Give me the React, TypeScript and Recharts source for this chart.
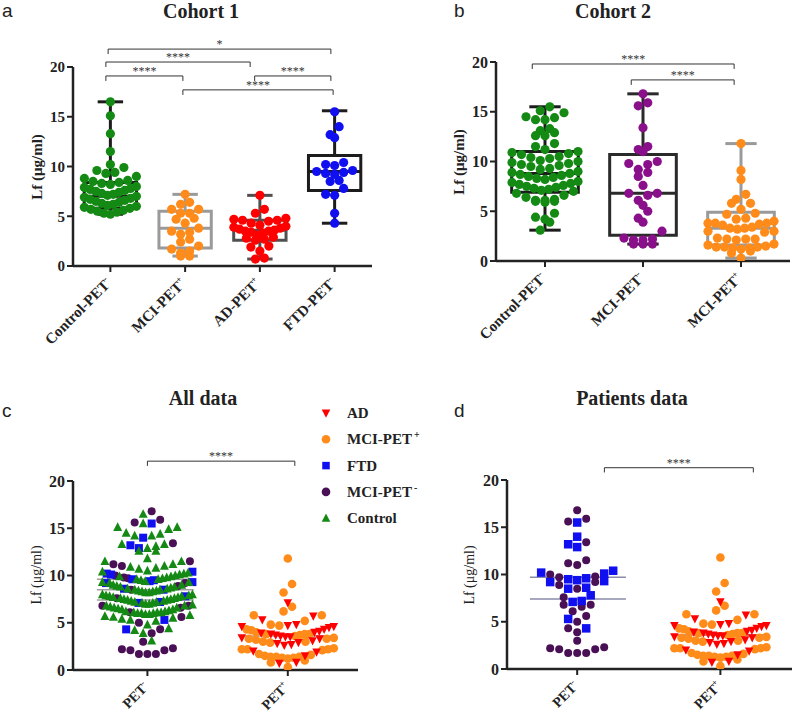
import React from "react";
import { ScatterChart, Scatter, XAxis, YAxis, ReferenceLine, ReferenceArea } from "recharts";

const SERIF = '"Liberation Serif", "Times New Roman", serif';
const SANS = '"Liberation Sans", Arial, sans-serif';
const INK = "#222";

const RED = "#ff0000";
const ORANGE = "#ff8c1a";
const BLUE = "#0f0ff0";
const GREEN = "#148a14";
const PURPLE = "#8a0f8a";
const DKPURPLE = "#4a1055";

// ─── Values (µg/ml) ───────────────────────────────────────────────────────────

const ctrl1 = [16.5, 15.1, 13.3, 11.5, 10.2, 9.9, 9.6, 9.4, 9.3, 9.0, 8.8, 8.6, 8.5, 8.4, 8.3, 8.2, 8.0, 7.9, 7.8, 7.7, 7.6, 7.5, 7.4, 7.3, 7.2, 7.1, 7.0, 6.9, 6.8, 6.7, 6.6, 6.5, 6.4, 6.3, 6.2, 6.1, 6.0, 5.9, 5.8, 5.7, 5.6, 5.5, 5.4, 5.3, 5.2];
const mciPos1 = [7.2, 6.4, 6.2, 5.7, 5.7, 5.3, 5.3, 4.8, 4.7, 4.3, 3.8, 3.5, 3.4, 3.2, 2.7, 2.4, 2.0, 1.7, 1.5, 1.3, 1.0, 1.0];
const ad1 = [7.1, 5.7, 5.3, 4.8, 4.7, 4.6, 4.6, 4.5, 4.3, 4.1, 4.0, 3.9, 3.8, 3.7, 3.6, 3.5, 3.5, 3.4, 3.3, 3.1, 2.9, 2.8, 2.7, 2.6, 2.0, 1.9, 1.5, 0.8, 0.7];
const ftd1 = [15.5, 14.0, 13.2, 12.9, 10.4, 10.2, 10.1, 9.6, 9.5, 9.4, 9.3, 9.2, 8.6, 8.5, 7.8, 7.2, 7.1, 5.3, 4.3];

const ctrl2 = [15.5, 15.1, 14.9, 14.5, 14.4, 14.2, 14.2, 13.3, 13.1, 12.9, 12.6, 12.6, 11.8, 11.5, 11.2, 11.0, 10.9, 10.8, 10.7, 10.5, 10.4, 10.3, 10.1, 10.0, 9.9, 9.8, 9.7, 9.6, 9.5, 9.3, 9.2, 9.0, 8.9, 8.8, 8.7, 8.6, 8.5, 8.4, 8.3, 8.2, 8.0, 7.9, 7.8, 7.7, 7.6, 7.5, 7.4, 7.3, 7.2, 7.1, 7.0, 6.8, 6.6, 6.4, 6.2, 6.1, 6.1, 6.0, 6.0, 5.9, 4.8, 4.4, 4.2, 3.9, 3.1];
const mciNeg2 = [16.8, 15.9, 15.6, 13.4, 11.5, 11.2, 11.0, 10.0, 9.8, 9.7, 9.2, 8.9, 8.5, 7.6, 6.8, 6.8, 6.6, 6.1, 5.6, 5.0, 4.3, 3.9, 3.0, 2.3, 2.2, 2.1, 2.1, 1.7, 1.7, 1.7];
const mciPos2 = [11.8, 9.1, 8.2, 6.7, 6.2, 5.8, 5.8, 5.2, 4.8, 4.7, 4.3, 4.2, 4.0, 3.8, 3.8, 3.8, 3.7, 3.6, 3.4, 3.3, 3.3, 3.2, 3.0, 3.0, 2.9, 2.3, 2.2, 2.2, 2.2, 2.1, 1.7, 1.6, 1.5, 1.4, 1.4, 1.4, 1.3, 1.3, 1.2, 1.0, 0.8, 0.3];

// ─── Categories & box statistics ──────────────────────────────────────────────

const cohort1Labels = ["Control-PET", "MCI-PET", "AD-PET", "FTD-PET"];
const cohort1Sups = ["-", "+", "+", "-"];
const cohort1Min = [5.2, 1.0, 0.7, 4.3];
const cohort1Q1 = [5.8, 1.8, 2.6, 7.6];
const cohort1Median = [7.0, 3.8, 3.6, 9.5];
const cohort1Q3 = [8.4, 5.5, 4.6, 11.1];
const cohort1Max = [16.5, 7.2, 7.1, 15.6];

const cohort2Labels = ["Control-PET", "MCI-PET", "MCI-PET"];
const cohort2Sups = ["-", "-", "+"];
const cohort2Min = [3.1, 1.7, 0.3];
const cohort2Q1 = [6.9, 2.6, 1.6];
const cohort2Median = [8.8, 6.8, 3.3];
const cohort2Q3 = [11.0, 10.7, 4.9];
const cohort2Max = [15.5, 16.8, 11.8];

const pooledLabels = ["PET", "PET"];
const pooledSups = ["-", "+"];
const allLinesNeg = [9.6, 8.5, 7.4];
const allLinesPos = [3.6];
const patLinesNeg = [9.7, 7.4];
const patLinesPos = [3.6];

const yTicks = [0, 5, 10, 15, 20];

// brackets: [from, to, level, label]
const bracketsA: [number, number, number, string][] = [
  [0.97, 3.95, 21.8, "*"],
  [0.94, 2.87, 20.5, "****"],
  [0.94, 1.97, 19.1, "****"],
  [2.93, 3.95, 19.1, "****"],
  [1.97, 3.98, 17.7, "****"],
];
const bracketsB: [number, number, number, string][] = [
  [0.87, 2.93, 19.8, "****"],
  [1.88, 2.93, 18.2, "****"],
];
const bracketsC: [number, number, number, string][] = [[1.0, 2.05, 22.1, "****"]];
const bracketsD: [number, number, number, string][] = [[1.19, 2.23, 21.3, "****"]];

// ─── Row-binned scatter layout (offsets in px, derived from the values) ──────
// points are binned into rows; inside a row the lowest values sit in the
// middle and the row is squeezed when it would exceed the column width

function rows(groups: number[][], ppu: number, hb: number, s0: number, maxHalf: number): number[][] {
  const items: { g: number; i: number; y: number }[] = [];
  groups.forEach((vals, g) => vals.forEach((v, i) => items.push({ g, i, y: v * ppu })));
  const bins = new Map<number, number[]>();
  items.forEach((it, k) => {
    const b = Math.floor(it.y / hb);
    if (!bins.has(b)) bins.set(b, []);
    bins.get(b)!.push(k);
  });
  const out = groups.map((vals) => vals.map(() => 0));
  bins.forEach((idx) => {
    idx.sort((a, b) => items[a].y - items[b].y || a - b);
    const n = idx.length;
    const s = n > 1 ? Math.min(s0, (2 * maxHalf) / (n - 1)) : 0;
    const pos = Array.from({ length: n }, (_, j) => (j - (n - 1) / 2) * s).sort(
      (a, b) => Math.abs(a) - Math.abs(b) || a - b
    );
    idx.forEach((k, j) => {
      out[items[k].g][items[k].i] = pos[j];
    });
  });
  return out;
}

const toPts = (vals: number[], offs: number[], cat: number, ppc: number) =>
  vals.map((v, i) => ({ x: cat + offs[i] / ppc, y: v }));

// ─── Marker shapes ────────────────────────────────────────────────────────────

const dot = (r: number, fill: string) => (p: any) => <circle cx={p.cx} cy={p.cy} r={r} fill={fill} />;
const square = (s: number, fill: string) => (p: any) => (
  <rect x={p.cx - s / 2} y={p.cy - s / 2} width={s} height={s} fill={fill} />
);
const triUp = (s: number, fill: string) => (p: any) => (
  <path d={`M${p.cx},${p.cy - s * 0.55}L${p.cx + s / 2},${p.cy + s * 0.42}L${p.cx - s / 2},${p.cy + s * 0.42}Z`} fill={fill} />
);
const triDown = (s: number, fill: string) => (p: any) => (
  <path d={`M${p.cx},${p.cy + s * 0.55}L${p.cx + s / 2},${p.cy - s * 0.42}L${p.cx - s / 2},${p.cy - s * 0.42}Z`} fill={fill} />
);

// ─── Axis ticks ───────────────────────────────────────────────────────────────

const makeXTick = (labels: string[], sups: string[], fs: number) => (props: any) => {
  const { x, y, payload } = props;
  const i = Math.round(payload.value) - 1;
  return (
    <text
      transform={`translate(${x + 2},${y + 10}) rotate(-45)`}
      textAnchor="end"
      fontFamily={SERIF}
      fontWeight={700}
      fontSize={fs}
      fill={INK}
    >
      {labels[i]}
      <tspan fontSize={fs * 0.6} dy={-fs * 0.42}>{sups[i]}</tspan>
    </text>
  );
};

const axisLine = { stroke: INK, strokeWidth: 2.5 };
const tickLine = { stroke: INK, strokeWidth: 2 };

// ─── Reference helpers ────────────────────────────────────────────────────────

function brackets(list: [number, number, number, string][], id: string) {
  return list.flatMap(([x1, x2, y, label], k) => [
    <ReferenceLine
      key={`${id}h${k}`}
      segment={[{ x: x1, y }, { x: x2, y }]}
      stroke="#333"
      strokeWidth={1}
      ifOverflow="visible"
      label={{ value: label, position: "top", offset: 1, fontSize: 12, fill: "#333", fontFamily: SERIF }}
    />,
    <ReferenceLine key={`${id}l${k}`} segment={[{ x: x1, y }, { x: x1, y: y - 0.5 }]} stroke="#333" strokeWidth={1} ifOverflow="visible" />,
    <ReferenceLine key={`${id}r${k}`} segment={[{ x: x2, y }, { x: x2, y: y - 0.5 }]} stroke="#333" strokeWidth={1} ifOverflow="visible" />,
  ]);
}

function boxes(mins: number[], q1: number[], med: number[], q3: number[], maxs: number[], colors: string[], hw: number, cw: number, id: string) {
  return mins.flatMap((mn, i) => {
    const c = i + 1;
    const col = colors[i];
    return [
      <ReferenceLine key={`${id}wt${i}`} segment={[{ x: c, y: q3[i] }, { x: c, y: maxs[i] }]} stroke={col} strokeWidth={3} ifOverflow="visible" />,
      <ReferenceLine key={`${id}wb${i}`} segment={[{ x: c, y: q1[i] }, { x: c, y: mn }]} stroke={col} strokeWidth={3} ifOverflow="visible" />,
      <ReferenceLine key={`${id}ct${i}`} segment={[{ x: c - cw, y: maxs[i] }, { x: c + cw, y: maxs[i] }]} stroke={col} strokeWidth={3} ifOverflow="visible" />,
      <ReferenceLine key={`${id}cb${i}`} segment={[{ x: c - cw, y: mn }, { x: c + cw, y: mn }]} stroke={col} strokeWidth={3} ifOverflow="visible" />,
      <ReferenceArea key={`${id}bx${i}`} x1={c - hw} x2={c + hw} y1={q1[i]} y2={q3[i]} fill="none" fillOpacity={0} stroke={col} strokeWidth={3} ifOverflow="visible" />,
      <ReferenceLine key={`${id}md${i}`} segment={[{ x: c - hw, y: med[i] }, { x: c + hw, y: med[i] }]} stroke={col} strokeWidth={3} ifOverflow="visible" />,
    ];
  });
}

function levelLines(vals: number[], cat: number, lo: number, hi: number, color: string, id: string) {
  return vals.map((v, k) => (
    <ReferenceLine key={`${id}${k}`} segment={[{ x: cat + lo, y: v }, { x: cat + hi, y: v }]} stroke={color} strokeWidth={1.5} ifOverflow="visible" />
  ));
}

// ─── Layout derived data ──────────────────────────────────────────────────────

const PPU_A = 199 / 20, PPC_A = 74.75;
const PPU_B = 199 / 20, PPC_B = 98;
const PPU_C = 189 / 20, PPC_C = 140.4;
const PPU_D = 189 / 20, PPC_D = 143.2;

const cohort1Groups = [ctrl1, mciPos1, ad1, ftd1];
const cohort1Colors = [GREEN, ORANGE, RED, BLUE];
const cohort1BoxColors = ["#1c1c1c", "#9a9a9a", "#505050", "#1c1c1c"];
const ptsA = cohort1Groups.map((vals, i) => toPts(vals, rows([vals], PPU_A, 10, 9, 26)[0], i + 1, PPC_A));

const cohort2Groups = [ctrl2, mciNeg2, mciPos2];
const cohort2Colors = [GREEN, PURPLE, ORANGE];
const cohort2BoxColors = ["#1c1c1c", "#2a2a2a", "#9a9a9a"];
const ptsB = cohort2Groups.map((vals, i) => toPts(vals, rows([vals], PPU_B, 10, 9.5, 33)[0], i + 1, PPC_B));

const ctrlAll = [...ctrl1, ...ctrl2];
const layCNeg = rows([ctrlAll, mciNeg2, ftd1], PPU_C, 11, 8.5, 45);
const layCPos = rows([ad1, mciPos2], PPU_C, 11, 8.5, 46);
const layDNeg = rows([mciNeg2, ftd1], PPU_D, 11, 9, 46);
const layDPos = rows([ad1, mciPos2], PPU_D, 11, 8.5, 46);

const legendItems = [
  { label: "AD", sup: "", color: RED, kind: "down" },
  { label: "MCI-PET", sup: "+", color: ORANGE, kind: "circle" },
  { label: "FTD", sup: "", color: BLUE, kind: "square" },
  { label: "MCI-PET", sup: "-", color: DKPURPLE, kind: "circle" },
  { label: "Control", sup: "", color: GREEN, kind: "up" },
];

// ─── Component ────────────────────────────────────────────────────────────────

const yTick = (fs: number) => ({ fontFamily: SERIF, fontWeight: 700, fontSize: fs, fill: INK });

export default function App() {
  return (
    <div style={{ position: "absolute", left: 0, top: 0, width: 796, height: 715, background: "#fff" }}>
      {/* a — Cohort 1 */}
      <div style={{ position: "absolute", left: 0, top: 0 }}>
        <ScatterChart width={400} height={360} margin={{ top: 67, right: 28, bottom: 4, left: 43 }}>
          <XAxis type="number" dataKey="x" domain={[0.5, 4.5]} ticks={[1, 2, 3, 4]} interval={0} allowDataOverflow height={90}
            tick={makeXTick(cohort1Labels, cohort1Sups, 15)} tickSize={6} tickLine={tickLine} axisLine={axisLine} />
          <YAxis type="number" dataKey="y" domain={[0, 20]} ticks={yTicks} interval={0} allowDataOverflow width={30}
            tick={yTick(15)} tickSize={6} tickLine={tickLine} axisLine={axisLine} />
          {boxes(cohort1Min, cohort1Q1, cohort1Median, cohort1Q3, cohort1Max, cohort1BoxColors, 0.35, 0.17, "a")}
          {ptsA.map((pts, i) => (
            <Scatter key={`a${i}`} data={pts} shape={dot(4.6, cohort1Colors[i])} isAnimationActive={false} />
          ))}
          {brackets(bracketsA, "ba")}
        </ScatterChart>
      </div>

      {/* b — Cohort 2 */}
      <div style={{ position: "absolute", left: 400, top: 0 }}>
        <ScatterChart width={396} height={360} margin={{ top: 62, right: 6, bottom: 4, left: 66 }}>
          <XAxis type="number" dataKey="x" domain={[0.5, 3.5]} ticks={[1, 2, 3]} interval={0} allowDataOverflow height={95}
            tick={makeXTick(cohort2Labels, cohort2Sups, 15)} tickSize={6} tickLine={tickLine} axisLine={axisLine} />
          <YAxis type="number" dataKey="y" domain={[0, 20]} ticks={yTicks} interval={0} allowDataOverflow width={30}
            tick={yTick(16)} tickSize={6} tickLine={tickLine} axisLine={axisLine} />
          {boxes(cohort2Min, cohort2Q1, cohort2Median, cohort2Q3, cohort2Max, cohort2BoxColors, 0.34, 0.16, "b")}
          {ptsB.map((pts, i) => (
            <Scatter key={`b${i}`} data={pts} shape={dot(4.6, cohort2Colors[i])} isAnimationActive={false} />
          ))}
          {brackets(bracketsB, "bb")}
        </ScatterChart>
      </div>

      {/* c — All data */}
      <div style={{ position: "absolute", left: 0, top: 390 }}>
        <ScatterChart width={400} height={325} margin={{ top: 91, right: 42, bottom: 3, left: 43 }}>
          <XAxis type="number" dataKey="x" domain={[0.47, 2.5]} ticks={[1, 2]} interval={0} allowDataOverflow height={42}
            tick={makeXTick(pooledLabels, pooledSups, 14)} tickSize={6} tickLine={tickLine} axisLine={axisLine} />
          <YAxis type="number" dataKey="y" domain={[0, 20]} ticks={yTicks} interval={0} allowDataOverflow width={30}
            tick={yTick(16)} tickSize={6} tickLine={tickLine} axisLine={axisLine} />
          <Scatter data={toPts(mciNeg2, layCNeg[1], 1, PPC_C)} shape={dot(4, DKPURPLE)} isAnimationActive={false} />
          <Scatter data={toPts(ftd1, layCNeg[2], 1, PPC_C)} shape={square(8, BLUE)} isAnimationActive={false} />
          <Scatter data={toPts(ctrlAll, layCNeg[0], 1, PPC_C)} shape={triUp(9, GREEN)} isAnimationActive={false} />
          <Scatter data={toPts(mciPos2, layCPos[1], 2, PPC_C)} shape={dot(4.3, ORANGE)} isAnimationActive={false} />
          <Scatter data={toPts(ad1, layCPos[0], 2, PPC_C)} shape={triDown(8.5, RED)} isAnimationActive={false} />
          {levelLines(allLinesNeg, 1, -0.36, 0.33, "#a0a0a0", "cn")}
          {levelLines(allLinesPos, 2, -0.35, 0.33, "#a0a0a0", "cp")}
          {brackets(bracketsC, "bc")}
        </ScatterChart>
      </div>

      {/* d — Patients data */}
      <div style={{ position: "absolute", left: 400, top: 390 }}>
        <ScatterChart width={396} height={325} margin={{ top: 90, right: 4, bottom: 3, left: 77 }}>
          <XAxis type="number" dataKey="x" domain={[0.51, 2.5]} ticks={[1, 2]} interval={0} allowDataOverflow height={43}
            tick={makeXTick(pooledLabels, pooledSups, 14)} tickSize={6} tickLine={tickLine} axisLine={axisLine} />
          <YAxis type="number" dataKey="y" domain={[0, 20]} ticks={yTicks} interval={0} allowDataOverflow width={30}
            tick={yTick(16)} tickSize={6} tickLine={tickLine} axisLine={axisLine} />
          <Scatter data={toPts(mciNeg2, layDNeg[0], 1, PPC_D)} shape={dot(4, DKPURPLE)} isAnimationActive={false} />
          <Scatter data={toPts(ftd1, layDNeg[1], 1, PPC_D)} shape={square(8.5, BLUE)} isAnimationActive={false} />
          <Scatter data={toPts(mciPos2, layDPos[1], 2, PPC_D)} shape={dot(4.3, ORANGE)} isAnimationActive={false} />
          <Scatter data={toPts(ad1, layDPos[0], 2, PPC_D)} shape={triDown(8.5, RED)} isAnimationActive={false} />
          {levelLines(patLinesNeg, 1, -0.33, 0.34, "#8a8aa8", "dn")}
          {levelLines(patLinesPos, 2, -0.33, 0.34, "#c06060", "dp")}
          {brackets(bracketsD, "bd")}
        </ScatterChart>
      </div>

      {/* titles, panel letters, axis titles, legend */}
      <svg width={796} height={715} style={{ position: "absolute", left: 0, top: 0, pointerEvents: "none" }}>
        <g fontFamily={SERIF} fontWeight={700} fontSize={20} fill={INK} textAnchor="middle">
          <text x={201} y={18}>Cohort 1</text>
          <text x={613} y={18}>Cohort 2</text>
          <text x={203} y={405}>All data</text>
          <text x={632} y={405}>Patients data</text>
        </g>
        <g fontFamily={SANS} fontSize={19} fill={INK}>
          <text x={2} y={17}>a</text>
          <text x={454} y={17}>b</text>
          <text x={2} y={417}>c</text>
          <text x={454} y={417}>d</text>
        </g>
        <g fontFamily={SERIF} fill={INK} textAnchor="middle">
          <text transform="translate(42,167) rotate(-90)" fontWeight={700} fontSize={15}>Lf (μg/ml)</text>
          <text transform="translate(464,162) rotate(-90)" fontWeight={700} fontSize={15}>Lf (μg/ml)</text>
          <text transform="translate(41,575) rotate(-90)" fontSize={14}>Lf (μg/ml)</text>
          <text transform="translate(474,575) rotate(-90)" fontSize={14}>Lf (μg/ml)</text>
        </g>
        <g fontFamily={SERIF} fontWeight={700} fontSize={15} fill={INK}>
          {legendItems.map((it, i) => {
            const cy = 413 + i * 26.3;
            const p = { cx: 326, cy };
            const sym =
              it.kind === "circle" ? dot(4.3, it.color)(p)
              : it.kind === "square" ? square(7.5, it.color)(p)
              : it.kind === "up" ? triUp(8.5, it.color)(p)
              : triDown(8.5, it.color)(p);
            return (
              <g key={i}>
                {sym}
                <text x={347} y={cy + 5}>
                  {it.label}
                  {it.sup && <tspan dx={2} dy={-6} fontSize={10}>{it.sup}</tspan>}
                </text>
              </g>
            );
          })}
        </g>
      </svg>
    </div>
  );
}
